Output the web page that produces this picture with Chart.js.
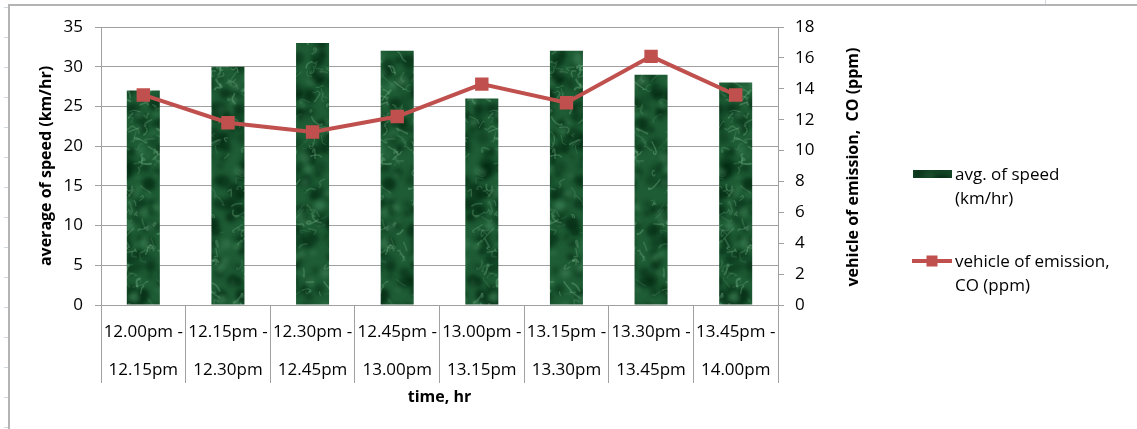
<!DOCTYPE html>
<html>
<head>
<meta charset="utf-8">
<script src="https://cdn.jsdelivr.net/npm/chart.js@4/dist/chart.umd.min.js"></script>
<style>
  html, body { margin: 0; padding: 0; background: #ffffff; }
  #wrap { width: 1137px; height: 429px; }
  canvas { display: block; }
</style>
</head>
<body>
<div id="wrap"><canvas id="chart" width="1137" height="429"></canvas></div>
<script>
// Time windows (two-line category labels)
const timeSlots = [
  ["12.00pm -", "12.15pm"],
  ["12.15pm -", "12.30pm"],
  ["12.30pm -", "12.45pm"],
  ["12.45pm -", "13.00pm"],
  ["13.00pm -", "13.15pm"],
  ["13.15pm -", "13.30pm"],
  ["13.30pm -", "13.45pm"],
  ["13.45pm -", "14.00pm"]
];

// Average speed per window (km/hr)
const avgSpeed = [27, 30, 33, 32, 26, 32, 29, 28];

// CO emission per window (ppm)
const coEmission = [13.6, 11.8, 11.2, 12.2, 14.3, 13.1, 16.1, 13.6];

// Axis ranges
const speedAxis = { min: 0, max: 35, step: 5 };
const coAxis = { min: 0, max: 18, step: 2 };

// Series names and how they wrap in the legend
const speedLabel = "avg. of speed (km/hr)";
const coLabel = "vehicle of emission, CO (ppm)";
const speedLegendLines = ["avg. of speed", "(km/hr)"];
const coLegendLines = ["vehicle of emission,", "CO (ppm)"];

// Axis titles
const xTitle = "time, hr";
const speedTitle = "average of speed (km/hr)";
const coTitle = "vehicle of emission,  CO (ppm)";

const FONT = "'Open Sans', 'DejaVu Sans', sans-serif";
const GRID = "#a0a0a0";
const RED = "#c0504d";

// Green marble fill for the bars (deterministic, seamless tile)
function marbleTexture(w, h) {
  const c = document.createElement("canvas");
  c.width = w; c.height = h;
  const g = c.getContext("2d");
  let s = 20240611;
  const rnd = () => ((s = (Math.imul(s, 1664525) + 1013904223) >>> 0) / 4294967296);
  // draw a shape at every wrapped position so the tile repeats without seams
  const wrapped = (draw) => {
    for (const dx of [-w, 0, w]) for (const dy of [-h, 0, h]) draw(dx, dy);
  };
  g.fillStyle = "#1e5c35";
  g.fillRect(0, 0, w, h);
  g.filter = "blur(2px)";
  for (let i = 0; i < 320; i++) {
    const x = rnd() * w, y = rnd() * h, r = 2 + rnd() * 5;
    g.fillStyle = `rgba(4,42,18,${0.3 + rnd() * 0.4})`;
    wrapped((dx, dy) => { g.beginPath(); g.arc(x + dx, y + dy, r, 0, Math.PI * 2); g.fill(); });
  }
  for (let i = 0; i < 120; i++) {
    const x = rnd() * w, y = rnd() * h, r = 1.5 + rnd() * 4;
    g.fillStyle = `rgba(80,150,105,${0.2 + rnd() * 0.3})`;
    wrapped((dx, dy) => { g.beginPath(); g.arc(x + dx, y + dy, r, 0, Math.PI * 2); g.fill(); });
  }
  g.filter = "blur(0.7px)";
  g.lineCap = "round";
  for (let i = 0; i < 260; i++) {
    const x = rnd() * w, y = rnd() * h;
    const p = [(rnd() - 0.5) * 12, (rnd() - 0.5) * 12, (rnd() - 0.5) * 16,
               (rnd() - 0.5) * 16, (rnd() - 0.5) * 20, (rnd() - 0.5) * 20];
    g.strokeStyle = `rgba(130,195,150,${0.12 + rnd() * 0.25})`;
    g.lineWidth = 0.8 + rnd() * 1.2;
    wrapped((dx, dy) => {
      g.beginPath();
      g.moveTo(x + dx, y + dy);
      g.bezierCurveTo(x + dx + p[0], y + dy + p[1], x + dx + p[2], y + dy + p[3],
                      x + dx + p[4], y + dy + p[5]);
      g.stroke();
    });
  }
  g.filter = "none";
  return c;
}

const ctx = document.getElementById("chart").getContext("2d");
const marble = ctx.createPattern(marbleTexture(120, 320), "repeat");

// White page, sheet frame lines
const backdrop = {
  id: "backdrop",
  beforeDraw(chart) {
    const c = chart.ctx;
    c.save();
    c.fillStyle = "#ffffff";
    c.fillRect(0, 0, chart.width, chart.height);
    c.strokeStyle = "#b4b4b4";
    c.lineWidth = 2;
    c.beginPath();
    c.moveTo(9, 429); c.lineTo(9, 5); c.lineTo(1137, 5);
    c.stroke();
    c.strokeStyle = "#d2d8e0";
    c.lineWidth = 1;
    c.beginPath();
    for (let y = 7; y < 429; y += 30) { c.moveTo(4, y + 0.5); c.lineTo(8, y + 0.5); }
    c.moveTo(1045.5, 0); c.lineTo(1045.5, 4);
    c.stroke();
    c.restore();
  }
};

// Right-axis title (reads bottom to top) and the legend
const extras = {
  id: "extras",
  afterDraw(chart) {
    const c = chart.ctx;
    const y1 = chart.scales.y1;
    c.save();
    c.fillStyle = "#000";
    c.font = `bold 16px ${FONT}`;
    c.textAlign = "center";
    c.textBaseline = "middle";
    c.translate(853, (y1.top + y1.bottom) / 2 + 1);
    c.rotate(-Math.PI / 2);
    c.fillText(coTitle, 0, 0);
    c.restore();

    c.save();
    c.font = `17px ${FONT}`;
    c.textAlign = "left";
    c.textBaseline = "middle";
    // bar entry
    c.fillStyle = marble;
    c.fillRect(913, 170, 39, 8);
    c.fillStyle = "rgba(0,20,8,0.3)";
    c.fillRect(913, 170, 39, 8);
    c.fillStyle = "#000";
    speedLegendLines.forEach((t, i) => c.fillText(t, 955, 175 + i * 24));
    // line entry
    c.strokeStyle = RED;
    c.lineWidth = 4;
    c.beginPath();
    c.moveTo(912, 261); c.lineTo(952, 261);
    c.stroke();
    c.fillStyle = RED;
    c.fillRect(926.5, 255.5, 11, 11);
    c.fillStyle = "#000";
    coLegendLines.forEach((t, i) => c.fillText(t, 955, 262 + i * 24));
    c.restore();
  }
};

new Chart(ctx, {
  data: {
    labels: timeSlots,
    datasets: [
      {
        type: "line",
        label: coLabel,
        data: coEmission,
        yAxisID: "y1",
        order: 0,
        borderColor: RED,
        borderWidth: 4,
        tension: 0,
        pointStyle: "rect",
        pointRadius: 9.5,
        pointBackgroundColor: RED,
        pointBorderColor: RED,
        pointBorderWidth: 0
      },
      {
        type: "bar",
        label: speedLabel,
        data: avgSpeed,
        yAxisID: "y",
        order: 1,
        backgroundColor: marble,
        borderWidth: 0,
        categoryPercentage: 1,
        barPercentage: 0.39
      }
    ]
  },
  options: {
    responsive: false,
    animation: false,
    events: [],
    devicePixelRatio: 1,
    layout: { padding: { top: 27, left: 0, right: 0, bottom: 0 } },
    plugins: {
      legend: { display: false },
      tooltip: { enabled: false }
    },
    scales: {
      x: {
        position: "bottom",
        offset: true,
        grid: {
          offset: true,
          drawOnChartArea: false,
          drawTicks: true,
          tickLength: 78,
          color: GRID,
          lineWidth: 1
        },
        border: { color: GRID, width: 1 },
        ticks: {
          color: "#000",
          padding: -70,
          maxRotation: 0,
          autoSkip: false,
          font: { family: FONT, size: 17, lineHeight: 38 / 17 }
        },
        title: {
          display: true,
          text: xTitle,
          color: "#000",
          font: { family: FONT, size: 16, weight: "bold" },
          padding: { top: 0, bottom: 22 }
        },
        afterFit(scale) { scale.height = 124; }
      },
      y: {
        position: "left",
        min: speedAxis.min,
        max: speedAxis.max,
        grid: { color: GRID, lineWidth: 1, tickLength: 6, drawTicks: true },
        border: { color: GRID, width: 1 },
        ticks: {
          stepSize: speedAxis.step,
          color: "#000",
          padding: 12,
          font: { family: FONT, size: 17 }
        },
        title: {
          display: true,
          text: speedTitle,
          color: "#000",
          font: { family: FONT, size: 16, weight: "bold" },
          padding: { top: 37, bottom: 0 }
        },
        afterFit(scale) { scale.width = 101; }
      },
      y1: {
        position: "right",
        min: coAxis.min,
        max: coAxis.max,
        grid: { drawOnChartArea: false, color: GRID, lineWidth: 1, tickLength: 6, drawTicks: true },
        border: { color: GRID, width: 1 },
        ticks: {
          stepSize: coAxis.step,
          color: "#000",
          padding: 11,
          font: { family: FONT, size: 17 }
        },
        afterFit(scale) { scale.width = 1137 - 778; }
      }
    }
  },
  plugins: [backdrop, extras]
});
</script>
</body>
</html>
